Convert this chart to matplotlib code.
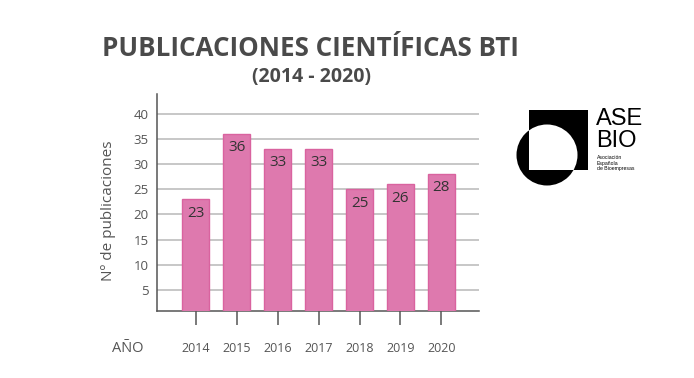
import matplotlib
matplotlib.use("Agg")
import matplotlib.pyplot as plt
import matplotlib.patches as mpatches

# -----------------------------
# DATOS
# -----------------------------

anios = ["2014", "2015", "2016", "2017", "2018", "2019", "2020"]
publicaciones = [23, 36, 33, 33, 25, 26, 28]
y_ticks = [5, 10, 15, 20, 25, 30, 35, 40]

plt.rcParams["font.family"] = ["Open Sans", "DejaVu Sans"]

gris = "#555555"
rosa = "#de79ae"
rosa_borde = "#d9639f"

# -----------------------------
# GRÁFICO
# -----------------------------

fig = plt.figure(figsize=(6.94, 3.78), dpi=100, facecolor="white")

ax = fig.add_axes([157 / 694, 1 - 311 / 378, 322 / 694, 217 / 378])

x = range(len(anios))
barras = ax.bar(x, publicaciones, width=0.66, color=rosa, edgecolor=rosa_borde,
                linewidth=1, zorder=3)

for xi, v in zip(x, publicaciones):
    ax.annotate(str(v), (xi, v), xytext=(0, -10), textcoords="offset points",
                ha="center", va="center", fontsize=11, color="#333333", zorder=4)

ax.set_xlim(-0.95, 6.92)
ax.set_ylim(0.8, 43.9)

ax.set_yticks(y_ticks)
ax.set_yticklabels([str(t) for t in y_ticks])
ax.yaxis.grid(True, color="#b8b8b8", linewidth=1.1, zorder=0)
ax.set_axisbelow(True)

ax.set_xticks(list(x))
ax.set_xticklabels(anios)

ax.tick_params(axis="y", length=0, pad=6, labelsize=9.5, labelcolor=gris)
ax.tick_params(axis="x", length=10, width=1.1, color=gris, pad=12,
               labelsize=9, labelcolor=gris)

for lado in ["top", "right"]:
    ax.spines[lado].set_visible(False)
for lado in ["left", "bottom"]:
    ax.spines[lado].set_color(gris)
    ax.spines[lado].set_linewidth(1.1)

fig.text(108 / 694, 1 - 211 / 378, "Nº de publicaciones", rotation=90,
         ha="center", va="center", fontsize=11, color=gris)
fig.text(128 / 694, 1 - 348 / 378, "AÑO", ha="center", va="center",
         fontsize=10.5, color=gris)

fig.text(310 / 694, 1 - 49 / 378, "PUBLICACIONES CIENTÍFICAS BTI",
         ha="center", va="center", fontsize=18.7, fontweight="bold", color="#4a4a4a")
fig.text(312 / 694, 1 - 77 / 378, "(2014 - 2020)",
         ha="center", va="center", fontsize=14, fontweight="bold", color="#4a4a4a")

# -----------------------------
# LOGO ASEBIO
# -----------------------------

lg = fig.add_axes([0, 0, 1, 1], zorder=5)
lg.set_xlim(0, 694)
lg.set_ylim(378, 0)
lg.axis("off")
lg.patch.set_alpha(0)

cuadro = mpatches.Rectangle((529, 110), 59, 60, facecolor="black", edgecolor="none")
circulo = mpatches.Circle((547, 155), 30.5, facecolor="black", edgecolor="none")
lg.add_patch(cuadro)
lg.add_patch(circulo)
interior = mpatches.Circle((547, 155), 30.5, facecolor="white", edgecolor="none")
lg.add_patch(interior)
interior.set_clip_path(mpatches.Rectangle((529, 110), 59, 60, transform=lg.transData))

lg.text(596, 119, "ASE", ha="left", va="center", fontsize=17, color="black",
        family=["Liberation Sans", "DejaVu Sans"])
lg.text(596, 141, "BIO", ha="left", va="center", fontsize=17, color="black",
        family=["Liberation Sans", "DejaVu Sans"])
lg.text(597, 155, "Asociación\nEspañola\nde Bioempresas", ha="left", va="top",
        fontsize=3.7, color="black", linespacing=1.15,
        family=["Liberation Sans", "DejaVu Sans"])

plt.savefig("out.png", dpi=100, facecolor="white")
